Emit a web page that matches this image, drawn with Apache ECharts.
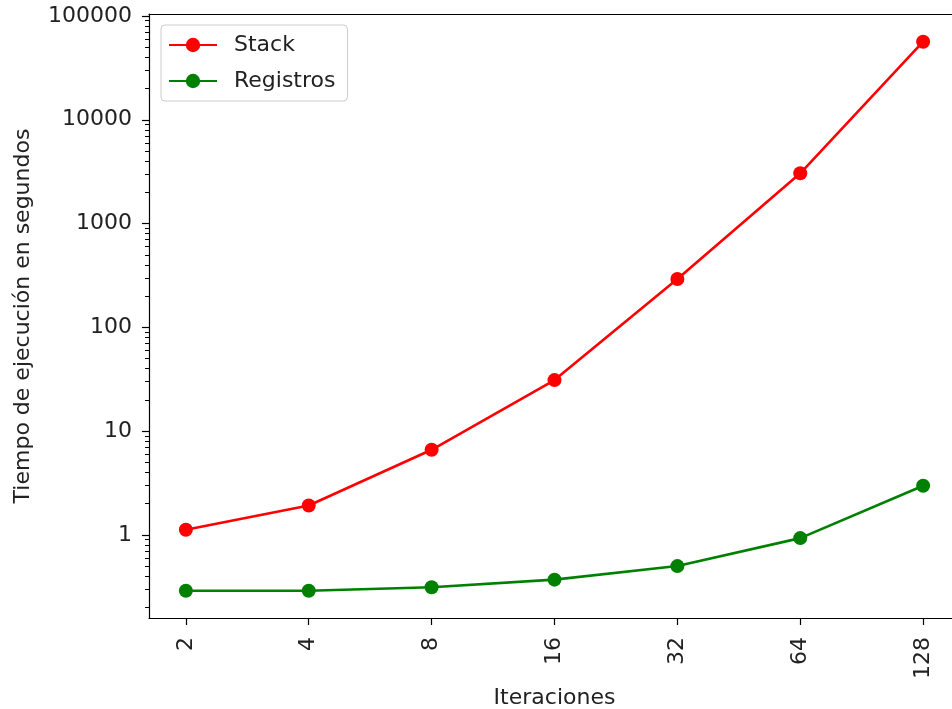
<!DOCTYPE html>
<html><head><meta charset="utf-8">
<script src="https://cdn.jsdelivr.net/npm/echarts@6/dist/echarts.min.js"></script>
<style>html,body{margin:0;padding:0;background:#fff}#chart{width:952px;height:709px}</style>
</head><body><div id="chart"></div>
<script>
const iterations = [2, 4, 8, 16, 32, 64, 128];
const stackTimes = [1.12, 1.92, 6.6, 31, 292, 3050, 56500];
const registrosTimes = [0.289, 0.289, 0.313, 0.37, 0.50, 0.93, 2.97];
const xTickValues = [2, 4, 8, 16, 32, 64, 128];
const yTickValues = [1, 10, 100, 1000, 10000, 100000];
const yMinorTickValues = [0.2, 0.3, 0.4, 0.5, 0.6, 0.7, 0.8, 0.9,
  2, 3, 4, 5, 6, 7, 8, 9, 20, 30, 40, 50, 60, 70, 80, 90,
  200, 300, 400, 500, 600, 700, 800, 900, 2000, 3000, 4000, 5000, 6000, 7000, 8000, 9000,
  20000, 30000, 40000, 50000, 60000, 70000, 80000, 90000];

const FONT = 'DejaVu Sans';
const TXT = '#222';
const FS = 22;
const yMin = 0.158, yMax = 104500;
const xMin = Math.pow(2, 0.7), xMax = Math.pow(2, 7.3);

const chart = echarts.init(document.getElementById('chart'), null, {renderer: 'canvas'});
chart.setOption({
  animation: false,
  backgroundColor: '#fff',
  textStyle: {fontFamily: FONT},
  grid: {left: 149, top: 14, width: 811, height: 604, show: false, outerBoundsMode: 'none', containLabel: false},
  legend: {
    orient: 'vertical', left: 161, top: 25,
    backgroundColor: '#fff', borderColor: '#ccc', borderWidth: 1, borderRadius: 4,
    padding: [9, 12, 9, 7], itemGap: 14, itemWidth: 48, itemHeight: 18,
    textStyle: {fontFamily: FONT, fontSize: FS, color: TXT, padding: [0, 0, 0, 12]},
    data: ['Stack', 'Registros']
  },
  xAxis: [{
    type: 'log', logBase: 2, min: xMin, max: xMax, position: 'bottom',
    axisLine: {onZero: false, lineStyle: {color: '#000', width: 1.2}},
    axisTick: {length: 7, customValues: xTickValues, lineStyle: {color: '#000', width: 1.2}},
    axisLabel: {customValues: xTickValues, rotate: 90, margin: 19, fontSize: FS, color: TXT, fontFamily: FONT,
      formatter: v => String(Math.round(v))},
    splitLine: {show: false},
    name: 'Iteraciones', nameLocation: 'middle', nameGap: 66,
    nameTextStyle: {fontSize: FS, color: TXT, fontFamily: FONT}
  }, {
    type: 'log', logBase: 2, min: xMin, max: xMax, position: 'top',
    axisLine: {onZero: false, lineStyle: {color: '#000', width: 1.2}},
    axisTick: {show: false}, axisLabel: {show: false}, splitLine: {show: false}
  }],
  yAxis: [{
    type: 'log', logBase: 10, min: yMin, max: yMax, position: 'left',
    axisLine: {onZero: false, lineStyle: {color: '#000', width: 1.2}},
    axisTick: {length: 7, customValues: yTickValues, lineStyle: {color: '#000', width: 1.2}},
    axisLabel: {customValues: yTickValues, margin: 17, fontSize: FS, color: TXT, fontFamily: FONT,
      formatter: v => String(Math.round(v))},
    splitLine: {show: false},
    name: 'Tiempo de ejecución en segundos', nameLocation: 'middle', nameGap: 115,
    nameTextStyle: {fontSize: FS, color: TXT, fontFamily: FONT}
  }, {
    type: 'log', logBase: 10, min: yMin, max: yMax, position: 'left',
    axisLine: {show: false},
    axisTick: {length: 4, customValues: yMinorTickValues, lineStyle: {color: '#000', width: 1}},
    axisLabel: {show: false},
    splitLine: {show: false}
  }],
  series: [{
    name: 'Stack', type: 'line', xAxisIndex: 0, yAxisIndex: 0,
    data: iterations.map((x, i) => [x, stackTimes[i]]),
    symbol: 'circle', symbolSize: 14,
    itemStyle: {color: '#ff0000'}, lineStyle: {color: '#ff0000', width: 2.6}
  }, {
    name: 'Registros', type: 'line', xAxisIndex: 0, yAxisIndex: 0,
    data: iterations.map((x, i) => [x, registrosTimes[i]]),
    symbol: 'circle', symbolSize: 14,
    itemStyle: {color: '#008000'}, lineStyle: {color: '#008000', width: 2.6}
  }]
});
</script></body></html>
